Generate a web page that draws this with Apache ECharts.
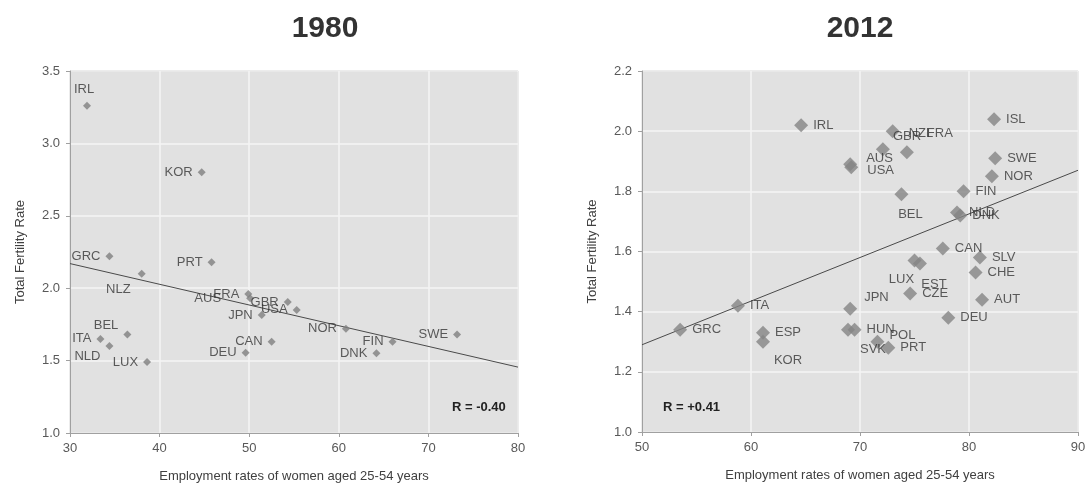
<!DOCTYPE html>
<html>
<head>
<meta charset="utf-8">
<script src="https://cdn.jsdelivr.net/npm/echarts@6/dist/echarts.min.js"></script>
<style>
html,body{margin:0;padding:0;background:#fff;}
#chart{width:1091px;height:491px;}
</style>
</head>
<body>
<div id="chart"></div>
<script>
// ---------- DATA ----------
const countries1980 = ['IRL','KOR','GRC','NLZ','PRT','FRA','AUS','GBR','USA','JPN','BEL','ITA','NLD','LUX','DEU','CAN','NOR','FIN','DNK','SWE'];
const emp1980 = [31.9,44.7,34.4,38.0,45.8,49.9,50.1,54.3,55.3,51.4,36.4,33.4,34.4,38.6,49.6,52.5,60.8,66.0,64.2,73.2];
const tfr1980 = [3.26,2.80,2.22,2.10,2.18,1.96,1.93,1.905,1.85,1.815,1.68,1.65,1.60,1.49,1.555,1.63,1.72,1.63,1.55,1.68];
const trend1980 = [[30,2.17],[80,1.455]];
const r1980 = 'R = -0.40';

const countries2012 = ['IRL','NZL','GBR','FRA','AUS','USA','ISL','SWE','NOR','FIN','BEL','NLD','DNK','CAN','SLV','CHE','AUT','DEU','CZE','LUX','EST','JPN','SVK','HUN','POL','PRT','ITA','GRC','ESP','KOR'];
const emp2012 = [64.6,73.0,72.1,74.3,69.1,69.2,82.3,82.4,82.1,79.5,73.8,78.9,79.2,77.6,81.0,80.6,81.2,78.1,74.6,75.0,75.5,69.1,68.9,69.5,71.6,72.6,58.8,53.5,61.1,61.1];
const tfr2012 = [2.02,2.00,1.94,1.93,1.89,1.88,2.04,1.91,1.85,1.80,1.79,1.73,1.72,1.61,1.58,1.53,1.44,1.38,1.46,1.57,1.56,1.41,1.34,1.34,1.30,1.28,1.42,1.34,1.33,1.30];
const trend2012 = [[50,1.29],[90,1.87]];
const r2012 = 'R = +0.41';

const titles = ['1980','2012'];
const xName = 'Employment rates of women aged 25-54 years';
const yName = 'Total Fertility Rate';

// ---------- LABEL PLACEMENT (style) ----------
const lab1980 = {
  IRL:{position:'top',offset:[-3,-1]},
  NLZ:{position:'left',offset:[-2,16]},
  AUS:{position:'left',offset:[-20,0]},
  BEL:{position:'left',offset:[0,-9]},
  NLD:{position:'left',offset:[0,10]},
  GBR:{position:'left',offset:[0,0]}
};
const lab2012 = {
  NZL:{position:'right',offset:[4,2]},
  GBR:{position:'right',offset:[-2,-13]},
  FRA:{position:'right',offset:[8,-19]},
  AUS:{position:'right',offset:[4,-6]},
  USA:{position:'right',offset:[4,3]},
  BEL:{position:'bottom',offset:[9,2]},
  LUX:{position:'bottom',offset:[-13,0]},
  EST:{position:'bottom',offset:[14,2]},
  JPN:{position:'right',offset:[2,-11]},
  SVK:{position:'right',offset:[0,20]},
  POL:{position:'right',offset:[0,-6]},
  KOR:{position:'bottom',offset:[25,0]}
};

const labelFont = {fontFamily:'Liberation Sans, Arial, sans-serif', fontSize:13, color:'#363636'};

function buildData(names, xs, ys, map, defPos){
  return names.map((n,i)=>{
    const m = map[n] || {};
    return {
      name:n, value:[xs[i], ys[i]],
      label:Object.assign({show:true, formatter:'{b}', position:m.position||defPos, offset:m.offset||[0,0], distance:5}, labelFont)
    };
  });
}

const chart = echarts.init(document.getElementById('chart'), null, {renderer:'canvas'});

const axisCommonX = {
  type:'value',
  name:xName, nameLocation:'middle', nameGap:37,
  nameTextStyle:{fontFamily:'Liberation Sans, Arial, sans-serif', fontSize:13, color:'#404040'},
  axisLine:{show:true, lineStyle:{color:'#a0a0a0'}},
  axisTick:{show:true, length:4, lineStyle:{color:'#a0a0a0'}},
  axisLabel:{fontFamily:'Liberation Sans, Arial, sans-serif', fontSize:13, color:'#595959', margin:9},
  splitLine:{show:true, lineStyle:{color:'#f4f4f4', width:1.5}}
};
const axisCommonY = {
  type:'value',
  name:yName, nameLocation:'middle', nameGap:43, nameRotate:90,
  nameTextStyle:{fontFamily:'Liberation Sans, Arial, sans-serif', fontSize:13, color:'#404040'},
  axisLine:{show:true, lineStyle:{color:'#a0a0a0'}},
  axisTick:{show:true, length:4, lineStyle:{color:'#a0a0a0'}},
  axisLabel:{fontFamily:'Liberation Sans, Arial, sans-serif', fontSize:13, color:'#595959', margin:10, formatter:v=>v.toFixed(1)},
  splitLine:{show:true, lineStyle:{color:'#f4f4f4', width:1.5}}
};

const titleFont = {fontFamily:'Liberation Sans Narrow, Liberation Sans, Arial, sans-serif', fontSize:30, fontWeight:'bold', color:'#333'};

const option = {
  animation:false,
  backgroundColor:'#ffffff',
  title:[
    {text:titles[0], left:320, top:9, textAlign:'center', textStyle:titleFont},
    {text:titles[1], left:855, top:9, textAlign:'center', textStyle:titleFont},
    {text:r1980, left:447, top:396,
     textStyle:{fontFamily:'Liberation Sans, Arial, sans-serif', fontSize:13, fontWeight:'bold', color:'#222'}},
    {text:r2012, left:658, top:396,
     textStyle:{fontFamily:'Liberation Sans, Arial, sans-serif', fontSize:13, fontWeight:'bold', color:'#222'}}
  ],
  grid:[
    {left:70, right:573, top:71, bottom:58, show:true, backgroundColor:'#e1e1e1', borderColor:'#a6a6a6', borderWidth:1},
    {left:642, right:13, top:71, bottom:59, show:true, backgroundColor:'#e1e1e1', borderColor:'#a6a6a6', borderWidth:1}
  ],
  xAxis:[
    Object.assign({}, axisCommonX, {gridIndex:0, min:30, max:80, interval:10}),
    Object.assign({}, axisCommonX, {gridIndex:1, min:50, max:90, interval:10})
  ],
  yAxis:[
    Object.assign({}, axisCommonY, {gridIndex:0, min:1.0, max:3.5, interval:0.5}),
    Object.assign({}, axisCommonY, {gridIndex:1, min:1.0, max:2.2, interval:0.2})
  ],
  series:[
    {type:'line', xAxisIndex:0, yAxisIndex:0, data:trend1980, symbol:'none', silent:true,
     lineStyle:{color:'#4a4a4a', width:1}, z:2},
    {type:'scatter', xAxisIndex:0, yAxisIndex:0, symbol:'diamond', symbolSize:8,
     itemStyle:{color:'#7f7f7f'}, data:buildData(countries1980, emp1980, tfr1980, lab1980, 'left'), z:3},
    {type:'line', xAxisIndex:1, yAxisIndex:1, data:trend2012, symbol:'none', silent:true,
     lineStyle:{color:'#4a4a4a', width:1}, z:2},
    {type:'scatter', xAxisIndex:1, yAxisIndex:1, symbol:'diamond', symbolSize:14,
     itemStyle:{color:'#858585'}, data:buildData(countries2012, emp2012, tfr2012, lab2012, 'right'), z:3}
  ]
};
chart.setOption(option);
</script>
</body>
</html>
